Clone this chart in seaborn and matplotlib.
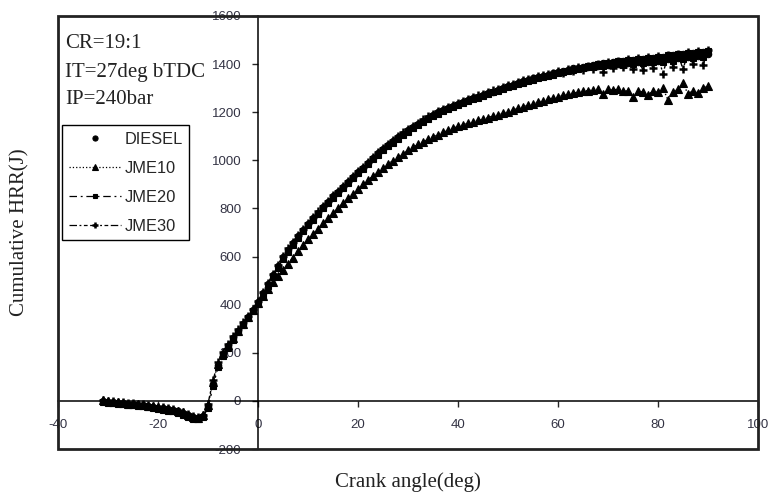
import matplotlib
matplotlib.use("Agg")
import matplotlib.pyplot as plt
from matplotlib.lines import Line2D
from matplotlib.patches import Rectangle
import seaborn as sns
import pandas as pd

# ---------------- data ----------------
angle = list(range(-31, 91))  # crank angle, deg (1 deg steps)

diesel = [0, -4, -6, -8, -10, -12, -14, -16, -18, -20, -24, -28, -31, -35, -39, -43,
          -50, -60, -68, -72, -62, -22, 72, 150, 196, 228, 262, 292, 320, 348, 378,
          410, 448, 486, 524, 562, 598, 628, 657, 685, 711, 736, 760, 783, 806, 828,
          850, 870, 890, 910, 930, 950, 970, 990, 1010, 1030, 1048, 1065, 1081, 1097,
          1111, 1125, 1139, 1152, 1165, 1178, 1190, 1200, 1209, 1218, 1227, 1235, 1243,
          1250, 1258, 1265, 1272, 1279, 1286, 1294, 1301, 1308, 1315, 1322, 1328, 1336,
          1342, 1346, 1352, 1356, 1362, 1366, 1372, 1374, 1382, 1384, 1390, 1388, 1398,
          1394, 1404, 1398, 1408, 1400, 1412, 1404, 1416, 1408, 1420, 1410, 1426, 1414,
          1430, 1420, 1436, 1424, 1442, 1430, 1448, 1432, 1450, 1440]

jme10 = [2, -2, -4, -6, -8, -11, -13, -15, -17, -20, -22, -26, -30, -33, -37, -42,
         -48, -58, -66, -70, -60, -16, 78, 155, 200, 232, 262, 292, 320, 348, 378,
         408, 438, 466, 494, 520, 546, 571, 596, 622, 647, 671, 694, 716, 738, 760,
         781, 802, 822, 842, 862, 881, 900, 918, 935, 952, 968, 984, 999, 1014, 1028,
         1042, 1054, 1066, 1077, 1088, 1098, 1107, 1116, 1125, 1133, 1141, 1148, 1154,
         1160, 1166, 1172, 1178, 1184, 1190, 1196, 1202, 1209, 1216, 1222, 1229, 1236,
         1242, 1248, 1254, 1260, 1265, 1270, 1274, 1279, 1283, 1287, 1290, 1293, 1296,
         1275, 1295, 1292, 1296, 1288, 1290, 1262, 1288, 1284, 1270, 1290, 1282, 1300,
         1250, 1286, 1296, 1320, 1276, 1290, 1280, 1300, 1308]

jme20 = [-4, -7, -9, -12, -14, -16, -18, -21, -23, -26, -29, -33, -37, -40, -44, -50,
         -57, -66, -74, -76, -66, -30, 60, 140, 188, 220, 255, 286, 315, 344, 374,
         404, 440, 478, 516, 554, 590, 620, 650, 678, 705, 730, 754, 778, 801, 823,
         845, 866, 886, 906, 926, 946, 966, 985, 1004, 1023, 1041, 1058, 1074, 1090,
         1105, 1119, 1133, 1146, 1159, 1172, 1184, 1194, 1204, 1213, 1222, 1230, 1238,
         1246, 1253, 1260, 1268, 1275, 1282, 1289, 1296, 1303, 1310, 1316, 1323, 1330,
         1336, 1342, 1347, 1352, 1356, 1362, 1366, 1370, 1376, 1380, 1384, 1394, 1386,
         1400, 1392, 1406, 1396, 1412, 1396, 1418, 1400, 1420, 1404, 1426, 1408, 1430,
         1410, 1436, 1414, 1440, 1420, 1446, 1426, 1452, 1430, 1456]

jme30 = [4, 0, -2, -4, -6, -8, -10, -12, -14, -17, -20, -24, -27, -31, -35, -40,
         -46, -55, -63, -68, -58, -12, 85, 160, 204, 236, 268, 298, 326, 354, 384,
         416, 452, 490, 528, 566, 604, 634, 662, 690, 716, 741, 765, 788, 810, 832,
         854, 874, 894, 914, 934, 954, 974, 994, 1014, 1033, 1052, 1069, 1086, 1101,
         1116, 1130, 1144, 1157, 1170, 1183, 1194, 1204, 1213, 1222, 1231, 1240, 1248,
         1255, 1262, 1270, 1277, 1284, 1291, 1298, 1305, 1312, 1318, 1325, 1332, 1338,
         1344, 1350, 1354, 1360, 1364, 1370, 1362, 1378, 1370, 1388, 1376, 1394, 1380,
         1402, 1366, 1408, 1384, 1414, 1388, 1420, 1380, 1424, 1374, 1428, 1384, 1434,
         1360, 1438, 1390, 1444, 1378, 1450, 1400, 1454, 1396, 1460]

series_names = ["DIESEL", "JME10", "JME20", "JME30"]
x_ticks = [-40, -20, 0, 20, 40, 60, 80, 100]
y_ticks = [-200, 0, 200, 400, 600, 800, 1000, 1200, 1400, 1600]

# ---------------- styling ----------------
sns.set_style("white")
plt.rcParams["font.family"] = ["Liberation Sans", "DejaVu Sans"]
plt.rcParams["axes.unicode_minus"] = False

styles = {
    "DIESEL": dict(linestyle="none", marker="o", markersize=4.6, mew=0.8),
    "JME10": dict(linestyle=":", marker="^", markersize=5.4, mew=0.8),
    "JME20": dict(linestyle=(0, (6, 3, 1.5, 3)), marker="s", markersize=4.3, mew=0.8),
    "JME30": dict(linestyle=(0, (6, 2, 1.5, 2, 3, 2)), marker="+", markersize=6, mew=1.8),
}

df = pd.DataFrame({"angle": angle * 4,
                   "hrr": diesel + jme10 + jme20 + jme30,
                   "fuel": sum([[n] * len(angle) for n in series_names], [])})

fig = plt.figure(figsize=(7.69, 4.95), dpi=100)
ax = fig.add_axes([58 / 769, 46 / 495, 700 / 769, 433 / 495])

for name in ["JME10", "JME20", "JME30", "DIESEL"]:
    sub = df[df["fuel"] == name]
    st = styles[name]
    sns.lineplot(data=sub, x="angle", y="hrr", ax=ax, color="black",
                 linewidth=1.0, linestyle=st["linestyle"], marker=st["marker"],
                 markersize=st["markersize"], markeredgewidth=st["mew"],
                 markeredgecolor="black", markerfacecolor="black",
                 legend=False, zorder=3, estimator=None)

ax.set_xlim(-40, 100)
ax.set_ylim(-200, 1600)
ax.set_xticks(x_ticks)
ax.set_yticks(y_ticks)
ax.set_xlabel("")
ax.set_ylabel("")

# center spines at data zero
ax.spines["left"].set_position(("data", 0))
ax.spines["bottom"].set_position(("data", 0))
for s in ["left", "bottom"]:
    ax.spines[s].set_linewidth(1.1)
    ax.spines[s].set_color("black")
ax.spines["right"].set_visible(False)
ax.spines["top"].set_visible(False)
ax.add_patch(Rectangle((0, 0), 1, 1, transform=ax.transAxes, fill=False,
                       linewidth=2.0, edgecolor="#222222", clip_on=False, zorder=5))

ax.tick_params(axis="y", direction="out", length=4, width=1, pad=8,
               labelsize=9.5, labelcolor="#333344", left=True)
ax.tick_params(axis="x", direction="out", length=4, width=1, pad=9,
               labelsize=9.5, labelcolor="#333344", bottom=True)
ax.grid(False)

# legend
handles = [Line2D([], [], color="black", linewidth=0.9, linestyle=styles[n]["linestyle"],
                  marker=styles[n]["marker"], markersize=styles[n]["markersize"] * 0.8,
                  markeredgewidth=styles[n]["mew"]) for n in series_names]
leg = ax.legend(handles, series_names, loc="upper left",
                bbox_to_anchor=(4 / 700, (449 - 125) / 433), borderaxespad=0,
                frameon=True, fancybox=False, edgecolor="black", framealpha=1,
                prop={"family": ["Liberation Sans"], "size": 11.8},
                handlelength=3.2, handletextpad=0.2, labelspacing=0.86,
                borderpad=0.4, markerfirst=True)
leg.get_frame().set_linewidth(1.0)
leg.set_zorder(6)

# annotation text (serif)
serif = ["Liberation Serif", "DejaVu Serif"]
for txt, yp in [("CR=19:1", 43), ("IT=27deg bTDC", 72), ("IP=240bar", 99)]:
    fig.text(65 / 769, 1 - yp / 495, txt, family=serif, fontsize=15,
             ha="left", va="center", color="#222222")

fig.text(20 / 769, 1 - 232 / 495, "Cumulative HRR(J)", family=serif, fontsize=15,
         rotation=90, ha="center", va="center", color="#222222")
fig.text(408 / 769, (495 - 487) / 495, "Crank angle(deg)", family=serif, fontsize=15,
         ha="center", va="baseline", color="#222222")

fig.savefig("out.png", dpi=100)
